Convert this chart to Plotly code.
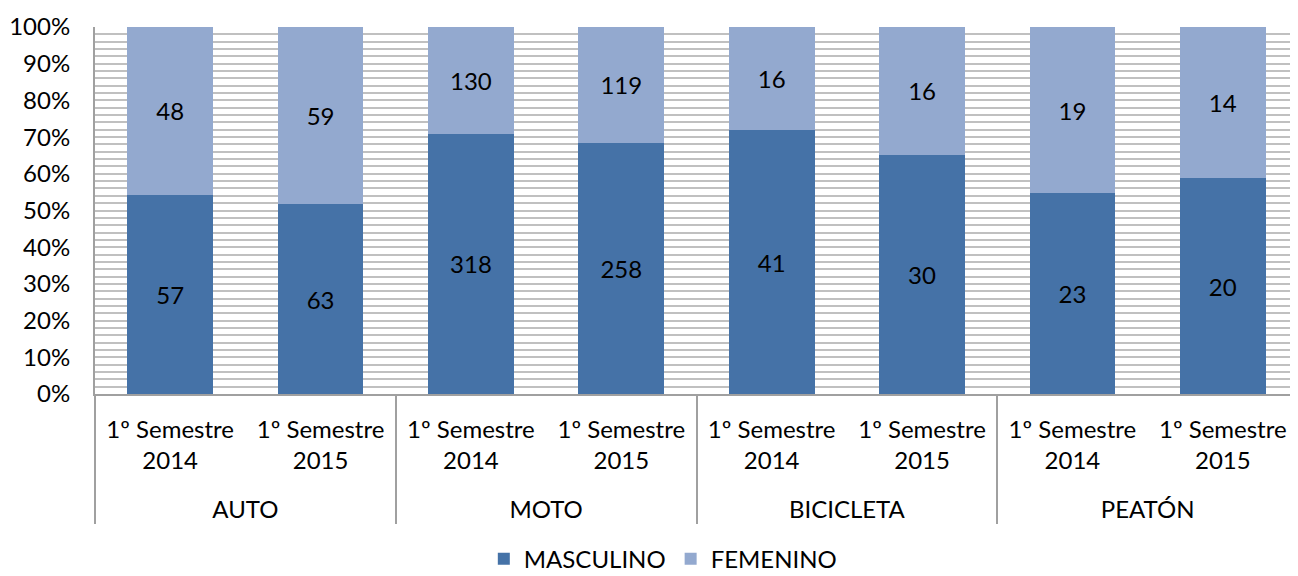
import plotly.graph_objects as go

groups = ["AUTO", "AUTO", "MOTO", "MOTO", "BICICLETA", "BICICLETA", "PEATÓN", "PEATÓN"]
periods = ["1º Semestre<br>2014<br> ", "1º Semestre<br>2015<br> "] * 4
masculino = [57, 63, 318, 258, 41, 30, 23, 20]
femenino = [48, 59, 130, 119, 16, 16, 19, 14]

C_MASC = "#4572A7"
C_FEM = "#93A9CF"
FONT = "Lato"
FS = 24

fig = go.Figure()
for name, vals, col in [("MASCULINO", masculino, C_MASC), ("FEMENINO", femenino, C_FEM)]:
    fig.add_trace(go.Bar(
        x=[groups, periods], y=vals, name=name, marker=dict(color=col, line=dict(width=0)),
        text=[str(v) for v in vals], textposition="inside", insidetextanchor="middle",
        textfont=dict(color="black", size=FS, family=FONT), texttemplate="%{text}",
        textangle=0, constraintext="none",
    ))

fig.update_layout(
    width=1290, height=568,
    margin=dict(l=87, r=0, t=19, b=182, autoexpand=False),
    barmode="stack", barnorm="fraction", bargap=0.43,
    plot_bgcolor="white", paper_bgcolor="white",
    font=dict(family=FONT, size=FS, color="black"),
    showlegend=True,
    legend=dict(orientation="h", x=0.472, xanchor="center", y=-0.45, yanchor="middle",
                font=dict(size=FS, family=FONT), itemwidth=30, traceorder="normal"),
    uniformtext=dict(mode=False),
)
fig.update_yaxes(
    range=[0, 1], tickformat=".0%", dtick=0.1, automargin=False,
    showgrid=True, gridcolor="#C0C0C0", gridwidth=2,
    minor=dict(dtick=0.02, showgrid=True, gridcolor="#C0C0C0", gridwidth=2),
    showline=True, linecolor="#A0A0A0", linewidth=2,
    ticks="", ticklabelstandoff=18, zeroline=False,
    tickfont=dict(size=FS, family=FONT),
)
fig.update_xaxes(
    showline=True, linecolor="#A0A0A0", linewidth=2, automargin=False,
    showdividers=True, dividercolor="#A0A0A0", dividerwidth=2,
    tickfont=dict(size=FS, family=FONT), ticks="", ticklabelstandoff=13,
)

fig.write_html("out.html")
